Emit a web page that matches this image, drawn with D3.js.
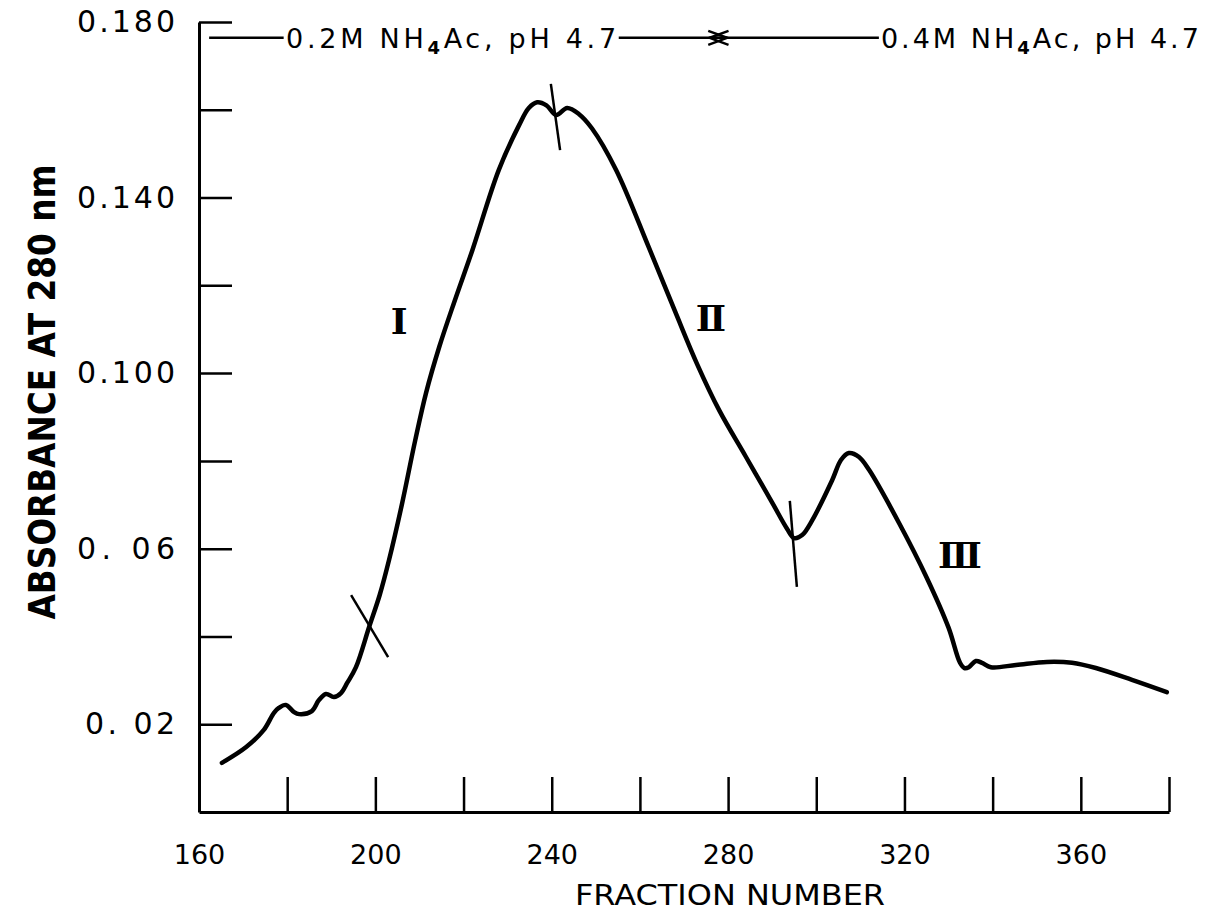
<!DOCTYPE html>
<html>
<head>
<meta charset="utf-8">
<script src="https://cdn.jsdelivr.net/npm/d3@7"></script>
<style>
  body { margin: 0; background: #fff; }
  svg { display: block; }
</style>
</head>
<body>
<div id="chart"></div>
<script>
var width = 1208;
var height = 923;

// elution profile
var fraction = [165.2, 170.7, 174.7, 177, 178.1, 179.7, 181.5, 182.7, 185.6, 187.2, 188.8, 190.6, 192.2, 193.6, 195.6,
    198.6, 201, 203.1, 206, 209, 211.5, 214.5, 218, 222, 228, 232.6, 234.8, 236.7, 238.8, 241, 243.5, 246.2, 249.1,
    254.6, 262, 268, 273, 278, 284, 290, 293.4, 295, 296.8, 299.1, 303.6, 305.6, 307.4, 309.7, 312,
    318.8, 325, 330, 332.6, 333.6, 334.6, 336.2, 337.6, 339.6, 345.3, 352.3, 358, 363.4, 371.6, 379.5];
var absorbance = [0.0112, 0.0148, 0.0187, 0.0226, 0.0237, 0.0244, 0.0228, 0.0223, 0.0230, 0.0255, 0.0269, 0.0262, 0.0271, 0.0294, 0.0330,
    0.0422, 0.0495, 0.0574, 0.0700, 0.0845, 0.0955, 0.1060, 0.1165, 0.1280, 0.1463, 0.1565, 0.1604, 0.1617, 0.1610, 0.1588, 0.1604, 0.1590, 0.1558,
    0.1463, 0.1287, 0.1140, 0.1020, 0.0915, 0.0810, 0.0705, 0.0645, 0.0624, 0.0631, 0.0665, 0.0756, 0.0802, 0.0818, 0.0809, 0.0779,
    0.0658, 0.0535, 0.0420, 0.0340, 0.0328, 0.0330, 0.0344, 0.0340, 0.0330, 0.0335, 0.0342, 0.0340, 0.0328, 0.0301, 0.0273];

var xTickMarks = [180, 200, 220, 240, 260, 280, 300, 320, 340, 360, 380];
var xTickLabels = [160, 200, 240, 280, 320, 360];
var yTickMarks = [0.02, 0.04, 0.06, 0.08, 0.10, 0.12, 0.14, 0.16, 0.18];
var yTickValues = [0.02, 0.06, 0.10, 0.14, 0.18];
var yTickText = ['0. 02', '0. 06', '0.100', '0.140', '0.180'];

// peak cuts: [fraction1, abs1, fraction2, abs2]
var cuts = [
    [194.5, 0.0494, 202.9, 0.0353],
    [239.8, 0.1659, 241.9, 0.1508],
    [294.0, 0.0709, 295.6, 0.0513]
];
var peakNames = ['\u2160', '\u2161', '\u2162'];
var peakFraction = [205.4, 276.1, 332.6];
var peakAbs = [0.1119, 0.1126, 0.0586];

// buffer change annotation
var bufferY = 0.1764;
var bufferChange = 277.8;

var data = fraction.map((f, i) => ({ f: f, a: absorbance[i] }));

var sans = '"DejaVu Sans", sans-serif';

var x = d3.scaleLinear().domain([160, 380]).range([199, 1169]);
var y = d3.scaleLinear().domain([0, 0.18]).range([812, 22]);

var svg = d3.select('#chart')
    .append('svg')
    .attr('width', width)
    .attr('height', height)
    .style('font-family', sans);

// x axis: tick marks pointing up, no labels
svg.append('g')
    .attr('transform', `translate(0, ${y(0)})`)
    .call(d3.axisBottom(x).tickValues(xTickMarks).tickSize(-35).tickSizeOuter(0).tickFormat(''))
    .call(g => g.select('.domain').attr('stroke-width', 3))
    .call(g => g.selectAll('.tick line').attr('stroke-width', 2.5));

svg.append('g')
    .attr('transform', `translate(0, ${y(0)})`)
    .call(d3.axisBottom(x).tickValues(xTickLabels).tickSize(0).tickPadding(33))
    .call(g => g.select('.domain').remove())
    .selectAll('text')
    .attr('font-size', 27)
    .attr('font-family', sans)
    .attr('fill', '#000');

// y axis: tick marks pointing right
svg.append('g')
    .attr('transform', `translate(${x(160)}, 0)`)
    .call(d3.axisRight(y).tickValues(yTickMarks).tickSize(33).tickSizeOuter(0).tickFormat(''))
    .call(g => g.select('.domain').attr('stroke-width', 3))
    .call(g => g.selectAll('.tick line').attr('stroke-width', 2.5));

svg.append('g')
    .attr('transform', `translate(${x(160)}, 0)`)
    .call(d3.axisLeft(y).tickValues(yTickValues).tickSize(0).tickPadding(24)
        .tickFormat((d, i) => yTickText[i]))
    .call(g => g.select('.domain').remove())
    .selectAll('text')
    .attr('font-size', 30)
    .attr('font-family', sans)
    .attr('fill', '#000')
    .attr('textLength', (d, i) => i === 0 ? 90 : 98)
    .attr('lengthAdjust', 'spacing');

// curve
var line = d3.line()
    .x(d => x(d.f))
    .y(d => y(d.a))
    .curve(d3.curveCatmullRom.alpha(0.5));

svg.append('path')
    .datum(data)
    .attr('d', line)
    .attr('fill', 'none')
    .attr('stroke', '#000')
    .attr('stroke-width', 4.5)
    .attr('stroke-linejoin', 'round')
    .attr('stroke-linecap', 'round');

// cut marks
svg.selectAll('.cut')
    .data(cuts)
    .enter()
    .append('line')
    .attr('class', 'cut')
    .attr('x1', d => x(d[0]))
    .attr('y1', d => y(d[1]))
    .attr('x2', d => x(d[2]))
    .attr('y2', d => y(d[3]))
    .attr('stroke', '#000')
    .attr('stroke-width', 2.5);

// peak names
svg.selectAll('.peak')
    .data(peakNames)
    .enter()
    .append('text')
    .attr('class', 'peak')
    .attr('x', (d, i) => x(peakFraction[i]))
    .attr('y', (d, i) => y(peakAbs[i]))
    .attr('dy', '0.36em')
    .attr('text-anchor', 'middle')
    .attr('font-family', '"DejaVu Serif", serif')
    .attr('font-weight', 'bold')
    .attr('font-size', 36)
    .text(d => d);

// buffer annotation
var by = y(bufferY);
var ann = svg.append('g').attr('stroke', '#000').attr('stroke-width', 2.5).attr('fill', 'none');
ann.append('line').attr('x1', x(162.3)).attr('x2', x(179.2)).attr('y1', by).attr('y2', by);
ann.append('line').attr('x1', x(255.2)).attr('x2', x(bufferChange + 2)).attr('y1', by).attr('y2', by);
ann.append('line').attr('x1', x(bufferChange - 2)).attr('x2', x(314.2)).attr('y1', by).attr('y2', by);
ann.append('path')
    .attr('d', `M${x(bufferChange - 2.3)},${by - 7} L${x(bufferChange + 2)},${by} L${x(bufferChange - 2.3)},${by + 7}`);
ann.append('path')
    .attr('d', `M${x(bufferChange + 2.3)},${by - 7} L${x(bufferChange - 2)},${by} L${x(bufferChange + 2.3)},${by + 7}`);

function bufferText(xStart, conc, len) {
    var t = svg.append('text')
        .attr('x', xStart)
        .attr('y', by + 10)
        .attr('font-size', 27)
        .attr('textLength', len)
        .attr('lengthAdjust', 'spacing');
    t.append('tspan').text(conc + ' NH');
    t.append('tspan').attr('dy', 6).attr('font-size', 18).attr('font-weight', 'bold').text('4');
    t.append('tspan').attr('dy', -6).text('Ac, pH 4.7');
}
bufferText(x(179.3) + 2, '0.2M', 330);
bufferText(x(314.2) + 2, '0.4M', 318);

// axis titles
svg.append('text')
    .attr('x', 730)
    .attr('y', 905)
    .attr('text-anchor', 'middle')
    .attr('font-size', 28)
    .attr('textLength', 310)
    .attr('lengthAdjust', 'spacingAndGlyphs')
    .text('FRACTION  NUMBER');

svg.append('text')
    .attr('transform', 'translate(55, 392) rotate(-90)')
    .attr('text-anchor', 'middle')
    .attr('font-family', '"DejaVu Sans Condensed", "DejaVu Sans", sans-serif')
    .attr('font-stretch', 'condensed')
    .attr('font-weight', 'bold')
    .attr('font-size', 37)
    .attr('textLength', 455)
    .attr('lengthAdjust', 'spacingAndGlyphs')
    .text('ABSORBANCE  AT 280 nm');
</script>
</body>
</html>
